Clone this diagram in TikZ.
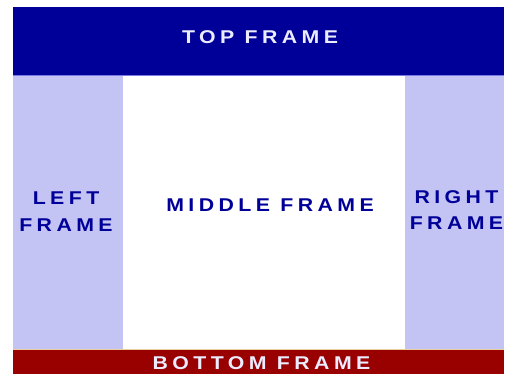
\documentclass[tikz,border=0pt]{standalone}
\usepackage{fontspec}
\setmainfont{Liberation Sans}
\newfontfamily\framefont[LetterSpace=24, FakeStretch=1.15]{Liberation Sans}
\usepackage{xcolor}
\definecolor{topblue}{HTML}{000099}
\definecolor{sidelav}{HTML}{C4C4F4}
\definecolor{botred}{HTML}{990000}
\definecolor{edgeblue}{HTML}{7A7AE6}
\definecolor{edgetan}{HTML}{E8CFA0}
\definecolor{palefg}{HTML}{ECECFF}

\begin{document}
\begin{tikzpicture}[
    x=1pt, y=-1pt,
    frametext/.style={font=\framefont\bfseries\fontsize{18.5}{26.5}\selectfont, align=center, inner sep=0pt},
    darktext/.style={frametext, text=topblue},
    lighttext/.style={frametext, text=palefg}
]
\useasboundingbox (0,0) rectangle (507,374);

% Frames
\fill[topblue] (13,7) rectangle (504,75);
\fill[sidelav] (13,75) rectangle (123,350);
\fill[sidelav] (405,75) rectangle (504,350);
\fill[botred] (13,350) rectangle (504,374);

% Frame edges
\draw[edgeblue, line width=1pt] (13,75.5) -- (504,75.5);
\draw[edgetan, line width=1pt] (13,349.5) -- (504,349.5);

% Frame labels
\node (toptext) [lighttext] at (260,37.5) {TOP FRAME};
\node (lefttext) [darktext] at (66,211.5) {LEFT\\FRAME};
\node (midtext) [darktext] at (270,205) {MIDDLE FRAME};
\node (righttext) [darktext] at (456.5,210) {RIGHT\\FRAME};
\node (bottext) [lighttext] at (261.5,363.5) {BOTTOM FRAME};

\end{tikzpicture}
\end{document}
